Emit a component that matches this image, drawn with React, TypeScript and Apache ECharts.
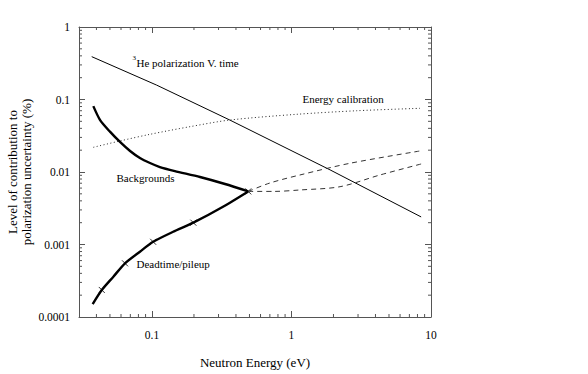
import React, { useEffect, useRef } from 'react';
import * as echarts from 'echarts';

const FONT = 'Liberation Serif, DejaVu Serif, serif';

// axis ranges / ticks / titles
const xRange = [0.03, 10];
const yRange = [0.0001, 1];
const minorMultipliers = [2, 3, 4, 5, 6, 7, 8, 9];
const xDecades = [0.01, 0.1, 1];
const yDecades = [0.0001, 0.001, 0.01, 0.1];
const xTitle = 'Neutron Energy (eV)';
const yTitle = 'Level of contribution to\npolarization uncertainty (%)';

// 3He polarization V. time
const heE = [0.037, 0.108, 0.362, 1.89, 8.5];
const heV = [0.39, 0.158, 0.052, 0.0107, 0.0024];

// Energy calibration
const calE = [0.038, 0.059, 0.0968, 0.1875, 0.362, 1.09, 2.94, 8.34];
const calV = [0.0219, 0.0268, 0.0331, 0.0422, 0.0521, 0.0625, 0.07, 0.0756];

// Backgrounds
const bgMainE = [0.038, 0.0425, 0.05, 0.059, 0.0697, 0.082, 0.0968, 0.114, 0.146, 0.221, 0.334, 0.49];
const bgMainV = [0.081, 0.052, 0.036, 0.026, 0.0195, 0.0156, 0.0133, 0.0117, 0.0103, 0.00853, 0.00683, 0.0054];
const bgTailE = [0.49, 0.75, 1.15, 2.23, 4.31, 8.5];
const bgTailV = [0.0054, 0.0054, 0.00565, 0.00627, 0.0091, 0.0129];

// Deadtime/pileup
const dtMainE = [0.0376, 0.0437, 0.0529, 0.0641, 0.082, 0.102, 0.142, 0.198, 0.323, 0.49];
const dtMainV = [0.000151, 0.000236, 0.00036, 0.00055, 0.000796, 0.00109, 0.0015, 0.002, 0.00332, 0.0054];
const dtTailE = [0.49, 0.7, 1.15, 2.63, 8.34];
const dtTailV = [0.0054, 0.00705, 0.0091, 0.0132, 0.0195];
const crossE = [0.0437, 0.0641, 0.102, 0.198, 0.49];
const crossV = [0.000236, 0.00055, 0.00109, 0.002, 0.0054];

const zip = (a: number[], b: number[]) => a.map((v, i) => [v, b[i]]);

const AXIS_COLOR = '#555';

export default function App() {
  const ref = useRef<HTMLDivElement>(null);
  useEffect(() => {
    if (!ref.current) return;
    const chart = echarts.init(ref.current, null, { renderer: 'svg' });

    const minorData: number[][] = [];
    xDecades.forEach((d) =>
      minorMultipliers.forEach((m) => {
        const v = +(d * m).toPrecision(6);
        if (v > xRange[0] && v < xRange[1]) minorData.push([v, yRange[0], 0]);
      })
    );
    yDecades.forEach((d) =>
      minorMultipliers.forEach((m) => {
        const v = +(d * m).toPrecision(6);
        if (v > yRange[0] && v < yRange[1]) minorData.push([xRange[0], v, 1]);
      })
    );

    const fmt = (v: number) => String(+(+v).toPrecision(6));
    const commonX = {
      type: 'log',
      min: xRange[0],
      max: xRange[1],
      logBase: 10,
      splitLine: { show: false },
      axisLine: { show: true, lineStyle: { color: AXIS_COLOR, width: 1 } },
      axisTick: { show: true, inside: true, length: 6, lineStyle: { color: AXIS_COLOR } },
    };
    const commonY = {
      type: 'log',
      min: yRange[0],
      max: yRange[1],
      logBase: 10,
      splitLine: { show: false },
      axisLine: { show: true, lineStyle: { color: AXIS_COLOR, width: 1 } },
      axisTick: { show: true, inside: true, length: 6, lineStyle: { color: AXIS_COLOR } },
    };

    chart.setOption({
      animation: false,
      backgroundColor: '#fff',
      grid: { left: 79, right: 157, top: 27, bottom: 57, containLabel: false, outerBoundsMode: 'none' },
      xAxis: [
        {
          ...commonX,
          position: 'bottom',
          name: xTitle,
          nameLocation: 'middle',
          nameGap: 39,
          nameTextStyle: { fontFamily: FONT, fontSize: 13, color: '#000' },
          axisLabel: {
            show: true,
            showMinLabel: false,
            margin: 12,
            fontFamily: FONT,
            fontSize: 11.5,
            color: '#000',
            formatter: fmt,
          },
        },
        { ...commonX, position: 'top', axisLabel: { show: false } },
      ],
      yAxis: [
        {
          ...commonY,
          position: 'left',
          axisLabel: {
            show: true,
            margin: 9,
            fontFamily: FONT,
            fontSize: 11.5,
            color: '#000',
            formatter: fmt,
          },
        },
        { ...commonY, position: 'right', axisLabel: { show: false } },
      ],
      series: [
        {
          name: '3He polarization V. time',
          type: 'line',
          data: zip(heE, heV),
          showSymbol: false,
          lineStyle: { color: '#000', width: 1 },
        },
        {
          name: 'Energy calibration',
          type: 'line',
          data: zip(calE, calV),
          smooth: 0.3,
          showSymbol: false,
          lineStyle: { color: '#222', width: 1, type: [1, 2.5] },
        },
        {
          name: 'Backgrounds',
          type: 'line',
          data: zip(bgMainE, bgMainV),
          smooth: 0.25,
          showSymbol: false,
          lineStyle: { color: '#000', width: 2.4 },
        },
        {
          name: 'Backgrounds tail',
          type: 'line',
          data: zip(bgTailE, bgTailV),
          smooth: 0.3,
          showSymbol: false,
          lineStyle: { color: '#333', width: 1, type: [5, 4] },
        },
        {
          name: 'Deadtime/pileup',
          type: 'line',
          data: zip(dtMainE, dtMainV),
          smooth: 0.25,
          showSymbol: false,
          lineStyle: { color: '#000', width: 2.4 },
        },
        {
          name: 'Deadtime/pileup tail',
          type: 'line',
          data: zip(dtTailE, dtTailV),
          smooth: 0.3,
          showSymbol: false,
          lineStyle: { color: '#333', width: 1, type: [5, 4] },
        },
        {
          name: 'Deadtime markers',
          type: 'scatter',
          data: zip(crossE, crossV),
          symbol: 'path://M0 0L10 10M10 0L0 10',
          symbolSize: 6,
          itemStyle: { color: 'rgba(0,0,0,0)', borderColor: '#000', borderWidth: 1 },
        },
        {
          name: 'minor ticks',
          type: 'custom',
          silent: true,
          data: minorData,
          encode: { x: 0, y: 1 },
          renderItem: (params: any, api: any) => {
            const v0 = api.value(0);
            const v1 = api.value(1);
            const kind = api.value(2);
            const st = { stroke: AXIS_COLOR, lineWidth: 1 };
            if (kind === 0) {
              const b = api.coord([v0, yRange[0]]);
              const t = api.coord([v0, yRange[1]]);
              return {
                type: 'group',
                children: [
                  { type: 'line', shape: { x1: b[0], y1: b[1], x2: b[0], y2: b[1] - 3 }, style: st },
                  { type: 'line', shape: { x1: t[0], y1: t[1], x2: t[0], y2: t[1] + 3 }, style: st },
                ],
              };
            }
            const l = api.coord([xRange[0], v1]);
            const r = api.coord([xRange[1], v1]);
            return {
              type: 'group',
              children: [
                { type: 'line', shape: { x1: l[0], y1: l[1], x2: l[0] + 3, y2: l[1] }, style: st },
                { type: 'line', shape: { x1: r[0], y1: r[1], x2: r[0] - 3, y2: r[1] }, style: st },
              ],
            };
          },
        },
      ],
      graphic: [
        {
          type: 'text',
          x: 19.5,
          y: 172,
          rotation: Math.PI / 2,
          style: {
            text: yTitle,
            fontFamily: FONT,
            fontSize: 13,
            lineHeight: 14,
            fill: '#000',
            align: 'center',
            verticalAlign: 'middle',
          },
        },
        { type: 'text', x: 132.5, y: 57.5, style: { text: '3', fontFamily: FONT, fontSize: 7, fill: '#000', verticalAlign: 'middle' } },
        { type: 'text', x: 136.5, y: 63, style: { text: 'He polarization V. time', fontFamily: FONT, fontSize: 11, fill: '#000', verticalAlign: 'middle' } },
        { type: 'text', x: 302.5, y: 99, style: { text: 'Energy calibration', fontFamily: FONT, fontSize: 11, fill: '#000', verticalAlign: 'middle' } },
        { type: 'text', x: 116.5, y: 177.5, style: { text: 'Backgrounds', fontFamily: FONT, fontSize: 11, fill: '#000', verticalAlign: 'middle' } },
        { type: 'text', x: 136.5, y: 264, style: { text: 'Deadtime/pileup', fontFamily: FONT, fontSize: 11, fill: '#000', verticalAlign: 'middle' } },
      ],
    });
    return () => chart.dispose();
  }, []);
  return (
    <div
      ref={ref}
      style={{ position: 'fixed', left: 0, top: 0, width: 588, height: 374, background: '#fff' }}
    />
  );
}
